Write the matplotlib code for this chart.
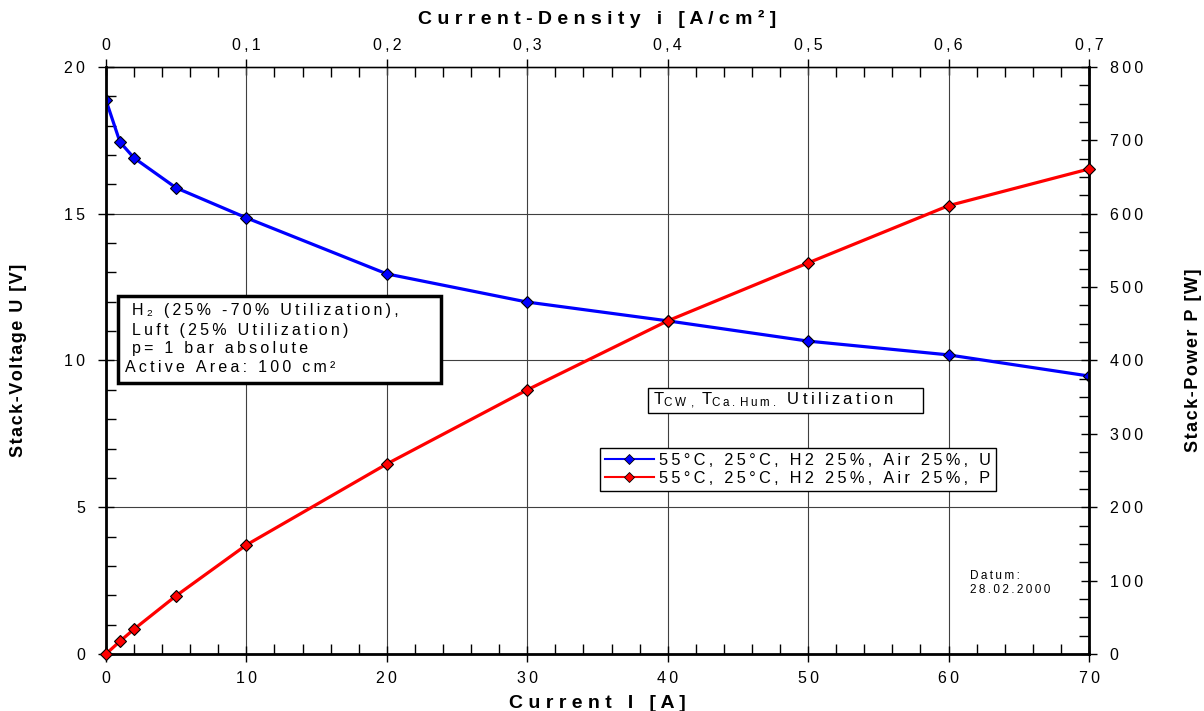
import matplotlib
matplotlib.use("Agg")
import matplotlib.pyplot as plt
from matplotlib.ticker import MultipleLocator, FixedLocator, FuncFormatter
from matplotlib.patches import Rectangle
from matplotlib.lines import Line2D

current_A = [0, 1, 2, 5, 10, 20, 30, 40, 50, 60, 70]
voltage_V = [18.87, 17.44, 16.90, 15.88, 14.86, 12.95, 11.99, 11.35, 10.66, 10.19, 9.47]
power_W = [0.0, 17.4, 33.8, 79.4, 148.6, 259.0, 360.0, 454.0, 533.0, 611.0, 661.0]

density_ticks = [0.0, 0.1, 0.2, 0.3, 0.4, 0.5, 0.6, 0.7]
series_labels = ["55°C, 25°C, H2 25%, Air 25%, U", "55°C, 25°C, H2 25%, Air 25%, P"]
info_lines = ["H\u2082 (25% -70% Utilization),", "Luft (25% Utilization)",
              "p= 1 bar absolute", "Active Area: 100 cm\u00b2"]
date_lines = ["Datum:", "28.02.2000"]

FAM = ["Liberation Sans", "DejaVu Sans"]
plt.rcParams["font.family"] = FAM
plt.rcParams["mathtext.fontset"] = "custom"
plt.rcParams["mathtext.rm"] = "Liberation Sans"
plt.rcParams["mathtext.it"] = "Liberation Sans"

THIN = "\u2009"
HAIR = "\u200a"


def sp(s, gap=THIN):
    # old plotting software spread letters out, mimic with thin spaces
    return gap.join(s)


fig = plt.figure(figsize=(12.04, 7.11), dpi=100)
ax = fig.add_axes([0.0880, 0.0802, 0.8165, 0.8256])
ax2 = ax.twinx()

ax.set_xlim(0, 70)
ax.set_ylim(0, 20)
ax2.set_ylim(0, 800)

ax.xaxis.set_major_locator(MultipleLocator(10))
ax.xaxis.set_minor_locator(MultipleLocator(2))
ax.yaxis.set_major_locator(MultipleLocator(5))
ax.yaxis.set_minor_locator(MultipleLocator(1))
ax2.yaxis.set_major_locator(MultipleLocator(100))
ax2.yaxis.set_minor_locator(MultipleLocator(25))

int_fmt = FuncFormatter(lambda v, p: sp(f"{v:.0f}"))
ax.xaxis.set_major_formatter(int_fmt)
ax.yaxis.set_major_formatter(int_fmt)
ax2.yaxis.set_major_formatter(int_fmt)

ax.grid(True, which="major", color="0.25", lw=0.8)
ax.set_axisbelow(True)

for a in (ax, ax2):
    a.tick_params(which="major", direction="inout", length=12, width=1, labelsize=11.5, pad=6)
    a.tick_params(which="minor", direction="in", length=7, width=1)
ax.tick_params(axis="y", pad=9)
ax2.tick_params(axis="y", pad=9)

for name in ("left", "bottom", "right"):
    ax2.spines[name].set_linewidth(2)
ax2.spines["top"].set_linewidth(1)

top = ax.secondary_xaxis("top", functions=(lambda x: x / 100, lambda x: x * 100))
top.xaxis.set_major_locator(FixedLocator(density_ticks))
top.xaxis.set_minor_locator(MultipleLocator(0.02))
top.xaxis.set_major_formatter(FuncFormatter(
    lambda v, p: "0" if abs(v) < 1e-9 else sp(f"{v:.1f}".replace(".", ","))))
top.tick_params(which="major", direction="inout", length=12, width=1, labelsize=11.5, pad=4)
top.tick_params(which="minor", direction="in", length=7, width=1)
top.set_xlabel(sp("Current-Density i [A/cm\u00b2]", " "), fontsize=14, fontweight="bold", labelpad=10)

ax.set_xlabel(sp("Current I [A]", " "), fontsize=14, fontweight="bold", labelpad=7)
ax.set_ylabel(sp("Stack-Voltage U [V]", HAIR), fontsize=13, fontweight="bold", labelpad=27)
ax2.set_ylabel(sp("Stack-Power P [W]", HAIR), fontsize=13, fontweight="bold", labelpad=30)

ax.plot(current_A, voltage_V, color="#0000ff", lw=2.3, marker="D", ms=6.5,
        mfc="#0000ff", mec="black", mew=0.8, zorder=3)
ax2.plot(current_A, power_W, color="#ff0000", lw=2.3, marker="D", ms=6.5,
         mfc="#ff0000", mec="black", mew=0.8, zorder=3, clip_on=False)

handles = [Line2D([], [], color="#0000ff", lw=1.5, marker="D", ms=5, mfc="#0000ff", mec="black", mew=0.6),
           Line2D([], [], color="#ff0000", lw=1.5, marker="D", ms=5, mfc="#ff0000", mec="black", mew=0.6)]
leg = ax2.legend(handles, [sp(s) for s in series_labels], loc="upper left",
                 bbox_to_anchor=(0.5025, 0.351), borderaxespad=0, fancybox=False,
                 framealpha=1, edgecolor="black", fontsize=11.8, handlelength=3.0,
                 handletextpad=0.3, labelspacing=0.2, borderpad=0.3)
leg.get_frame().set_linewidth(1)
leg.set_zorder(10)

# info box
ax2.add_patch(Rectangle((0.0122, 0.4617), 0.3286, 0.1482, transform=ax2.transAxes,
                        facecolor="white", edgecolor="black", lw=2.5, zorder=8))
ys = [0.585, 0.551, 0.520, 0.488]
xs = [0.0265, 0.0265, 0.0265, 0.0195]
for s, x, y in zip(info_lines, xs, ys):
    ax2.text(x, y, sp(s), transform=ax2.transAxes, fontsize=11.5, va="center", ha="left", zorder=9)

# temperature / utilization box
ax2.add_patch(Rectangle((0.5514, 0.4106), 0.2797, 0.0426, transform=ax2.transAxes,
                        facecolor="white", edgecolor="black", lw=1, zorder=8))
ax2.text(0.556, 0.431,
         r"T$_{\mathrm{C\;W\;\;,}}$ T$_{\mathrm{C\;a\;.\;H\;u\;m\;.}}$  " + sp("Utilization"),
         transform=ax2.transAxes, fontsize=12, va="center", ha="left", zorder=9)

ax2.text(0.879, 0.121, sp(date_lines[0]) + "\n" + sp(date_lines[1]), transform=ax2.transAxes,
         fontsize=8.5, va="center", ha="left", linespacing=1.25)

fig.savefig("out.png", dpi=100)
